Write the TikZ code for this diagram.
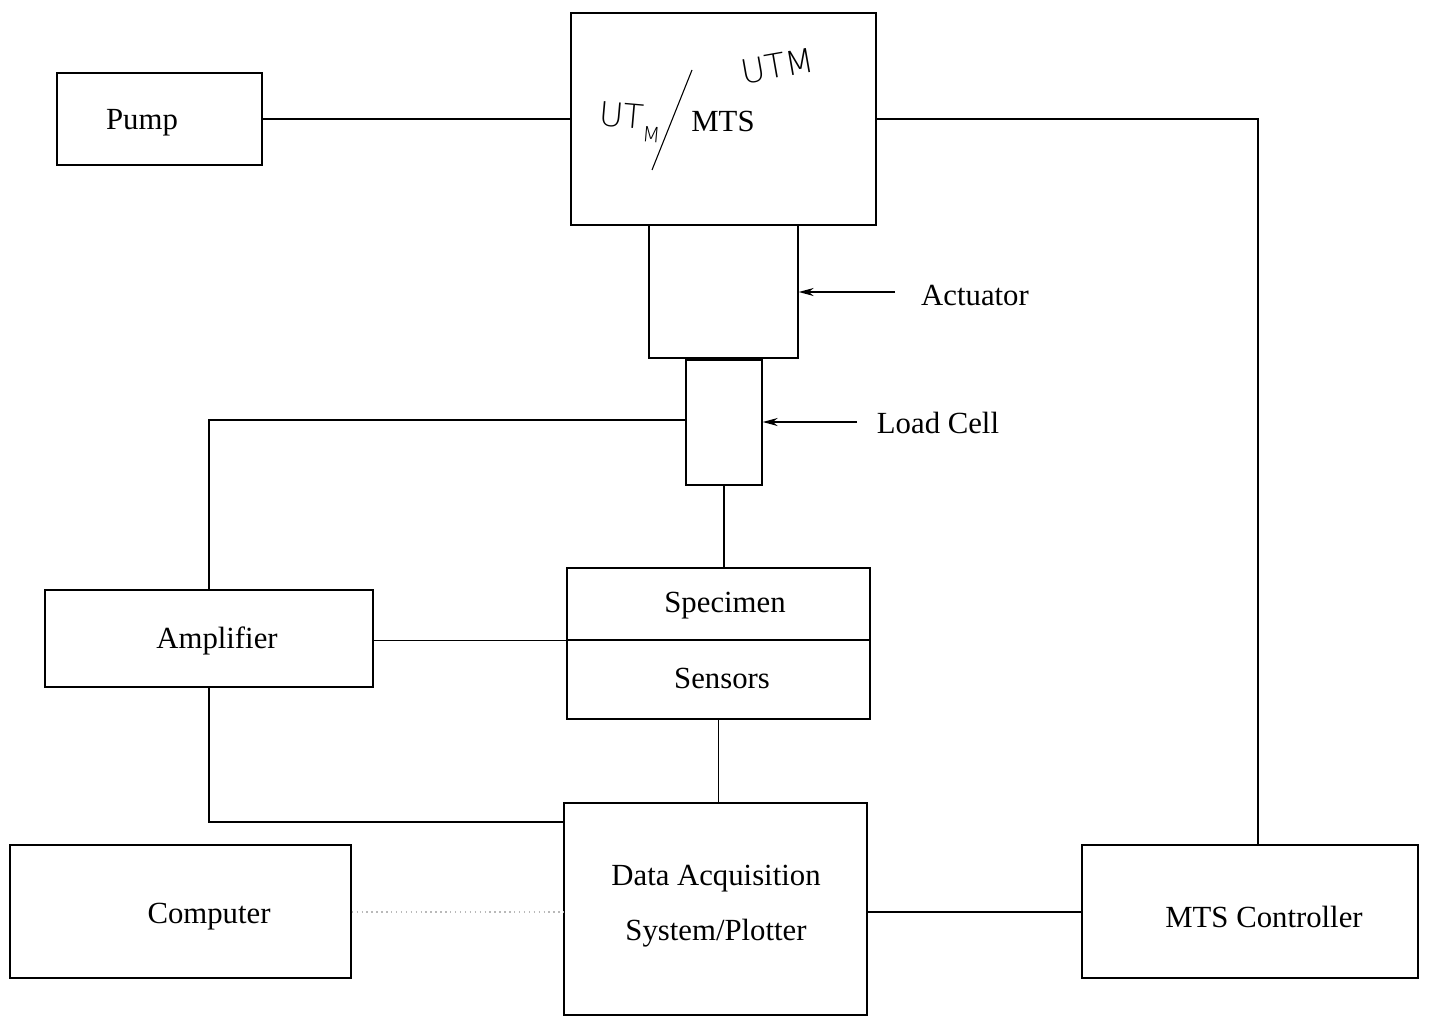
\documentclass[tikz,border=0pt]{standalone}
\usepackage{fontspec}
\setmainfont{Liberation Serif}
\newfontfamily\handfont{DejaVu Sans ExtraLight}
\usetikzlibrary{arrows.meta,calc}
\begin{document}
\begin{tikzpicture}[x=0.02cm,y=-0.02cm,
  box/.style={draw,line width=0.8pt,inner sep=0pt},
  wire/.style={line width=0.8pt},
  pointer/.style={line width=0.8pt,-{Stealth[length=0.3cm,width=0.16cm]}},
  lbl/.style={font=\fontsize{17.5}{20}\selectfont,inner sep=0pt},
  hand/.style={font=\handfont\fontsize{19}{21}\selectfont,inner sep=0pt}]
\useasboundingbox (0,0) rectangle (1429,1017);
% boxes
\node[box,minimum width=4.10cm,minimum height=1.84cm] (pump) at (159.5,119) {};
\node[box,minimum width=6.10cm,minimum height=4.24cm] (mts) at (723.5,119) {};
\node[box,minimum width=2.98cm,minimum height=2.66cm] (act) at (723.5,291.5) {};
\node[box,minimum width=1.52cm,minimum height=2.50cm] (lc) at (724,422.5) {};
\node[box,minimum width=6.06cm,minimum height=1.44cm] (spec) at (718.5,604) {};
\node[box,minimum width=6.06cm,minimum height=1.58cm] (sens) at (718.5,679.5) {};
\node[box,minimum width=6.56cm,minimum height=1.94cm] (amp) at (209,638.5) {};
\node[box,minimum width=6.06cm,minimum height=4.24cm] (daq) at (715.5,909) {};
\node[box,minimum width=6.82cm,minimum height=2.66cm] (comp) at (180.5,911.5) {};
\node[box,minimum width=6.72cm,minimum height=2.66cm] (ctrl) at (1250,911.5) {};
% texts
\node[lbl] (tpump) at (142,123) {Pump};
\node[lbl] (tmts) at (723,121) {MTS};
\node[lbl] (tspec) at (725,606) {Specimen};
\node[lbl] (tsens) at (722,678) {Sensors};
\node[lbl] (tamp) at (217,641) {Amplifier};
\node[lbl] (tdaq1) at (716,879) {Data Acquisition};
\node[lbl] (tdaq2) at (716,933) {System/Plotter};
\node[lbl] (tcomp) at (209,917) {Computer};
\node[lbl] (tctrl) at (1264,917) {MTS Controller};
\node[lbl] (tact) at (975,295) {Actuator};
\node[lbl] (tlc) at (938,423) {Load Cell};
% handwritten annotation
\node[hand,rotate=-5] (h1) at (630,122) {UT\raisebox{-0.7ex}{\fontsize{12}{13}\selectfont M}};
\draw[line width=0.6pt] (652,170) -- (692,70);
\node[hand,rotate=10] (h2) at (778,66) {UTM};
% connectors
\draw[wire] (pump.east) -- (pump.east -| mts.west);
\coordinate (rt) at ($(ctrl.north)+(8,0)$);
\draw[wire] (mts.east) -| (rt);
\coordinate (actend) at (895,292);
\draw[pointer] (actend) -- (actend -| act.east);
\coordinate (lcend) at (857,422);
\draw[pointer] (lcend) -- (lcend -| lc.east);
\draw[wire] (lc.west |- 0,420) -| (amp.north);
\draw[wire] (lc.south) -- (lc.south |- spec.north);
\draw[wire] (amp.east |- spec.south) -- (spec.south -| spec.west);
\draw[wire] (sens.south) -- (sens.south |- daq.north);
\coordinate (ampdaq) at (daq.west |- 0,822);
\draw[wire] (amp.south) |- (ampdaq);
\draw[line width=0.8pt,gray!55,dotted] (comp.east |- 0,912) -- (daq.west |- 0,912);
\draw[wire] (daq.east |- 0,912) -- (ctrl.west |- 0,912);
\end{tikzpicture}
\end{document}
